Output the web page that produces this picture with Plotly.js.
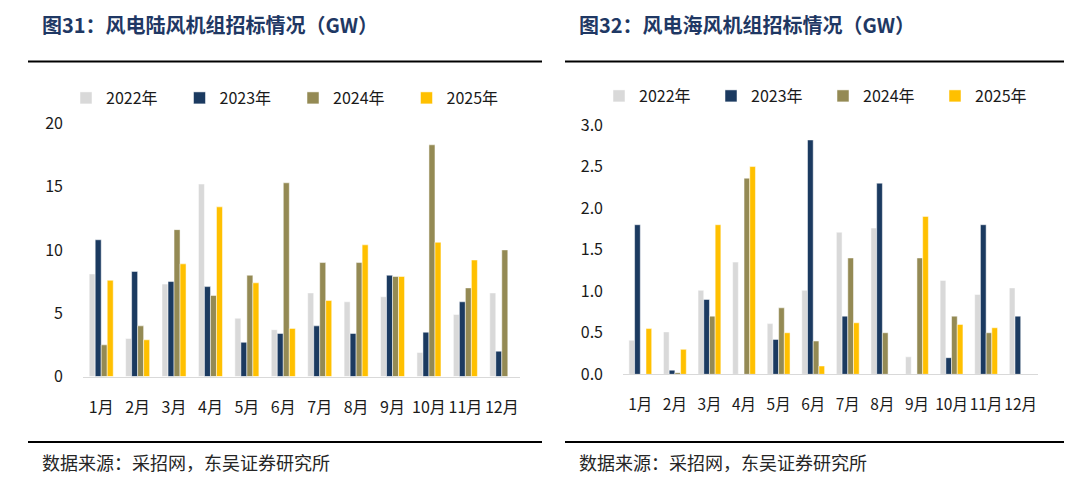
<!DOCTYPE html>
<html>
<head>
<meta charset="utf-8">
<script src="https://cdn.plot.ly/plotly-3.0.1.min.js"></script>
<style>
html,body{margin:0;padding:0;background:#fff;}
#chart{width:1080px;height:479px;}
</style>
</head>
<body>
<div id="chart"></div>
<script>
// ---- data (GW) ----
const months = ['1月','2月','3月','4月','5月','6月','7月','8月','9月','10月','11月','12月'];
const years = ['2022年','2023年','2024年','2025年'];

const onshore2022 = [8.1, 3.0, 7.3, 15.2, 4.6, 3.7, 6.6, 5.9, 6.3, 1.9, 4.9, 6.6];
const onshore2023 = [10.8, 8.3, 7.5, 7.1, 2.7, 3.4, 4.0, 3.4, 8.0, 3.5, 5.9, 2.0];
const onshore2024 = [2.5, 4.0, 11.6, 6.4, 8.0, 15.3, 9.0, 9.0, 7.9, 18.3, 7.0, 10.0];
const onshore2025 = [7.6, 2.9, 8.9, 13.4, 7.4, 3.8, 6.0, 10.4, 7.9, 10.6, 9.2, null];

const offshore2022 = [0.41, 0.51, 1.01, 1.35, 0.61, 1.01, 1.71, 1.76, 0.21, 1.13, 0.96, 1.04];
const offshore2023 = [1.8, 0.05, 0.9, 0, 0.42, 2.82, 0.7, 2.3, 0, 0.2, 1.8, 0.7];
const offshore2024 = [0, 0.02, 0.7, 2.36, 0.8, 0.4, 1.4, 0.5, 1.4, 0.7, 0.5, null];
const offshore2025 = [0.55, 0.3, 1.8, 2.5, 0.5, 0.1, 0.62, 0, 1.9, 0.6, 0.56, null];

const colors = ['#D9D9D9', '#1B3A60', '#948A54', '#FFC000'];

const onshore = [onshore2022, onshore2023, onshore2024, onshore2025];
const offshore = [offshore2022, offshore2023, offshore2024, offshore2025];

const FONT = '"Noto Sans CJK SC", "Open Sans", sans-serif';
const W = 1080, H = 479;
const px = v => v / W;
const py = v => 1 - v / H;

const traces = [];
onshore.forEach((vals, i) => {
  traces.push({
    type: 'bar', x: months, y: vals, name: years[i],
    xaxis: 'x', yaxis: 'y', legend: 'legend',
    marker: {color: colors[i], line: {color: '#ffffff', width: 0.5}},
    hovertemplate: '%{x} ' + years[i] + ': %{y}<extra></extra>'
  });
});
offshore.forEach((vals, i) => {
  traces.push({
    type: 'bar', x: months, y: vals, name: years[i],
    xaxis: 'x2', yaxis: 'y2', legend: 'legend2',
    marker: {color: colors[i], line: {color: '#ffffff', width: 0.5}},
    hovertemplate: '%{x} ' + years[i] + ': %{y}<extra></extra>'
  });
});

const tickFont = {family: FONT, size: 16, color: '#1a1a1a'};

const xCommon = {
  type: 'category', showgrid: false, zeroline: false,
  showline: true, linecolor: '#D9D9D9', linewidth: 1,
  ticks: '', ticklabelstandoff: 16, tickangle: 0, tickfont: tickFont, fixedrange: true
};
const yCommon = {
  showgrid: false, zeroline: false, showline: false,
  ticks: '', ticklabelstandoff: 19, tickfont: tickFont, fixedrange: true
};

const legendCommon = {
  orientation: 'h', xanchor: 'left', yanchor: 'middle',
  font: {family: FONT, size: 16, color: '#1a1a1a'},
  bgcolor: 'rgba(0,0,0,0)', entrywidthmode: 'pixels', traceorder: 'normal'
};

const layout = {
  width: W, height: H,
  margin: {l: 0, r: 0, t: 0, b: 0, pad: 0},
  paper_bgcolor: '#ffffff', plot_bgcolor: '#ffffff',
  barmode: 'group', bargap: 0.34, bargroupgap: 0,
  font: {family: FONT},
  xaxis: Object.assign({}, xCommon, {domain: [px(83), px(520)], anchor: 'y'}),
  yaxis: Object.assign({}, yCommon, {domain: [py(376.5), py(123.3)], range: [0, 20],
    tickvals: [0, 5, 10, 15, 20], anchor: 'x'}),
  xaxis2: Object.assign({}, xCommon, {domain: [px(623), px(1038)], anchor: 'y2',
    tickfont: {family: FONT, size: 15.5, color: '#1a1a1a'}}),
  yaxis2: Object.assign({}, yCommon, {domain: [py(374.3), py(125)], range: [0, 3],
    tickvals: [0, 0.5, 1, 1.5, 2, 2.5, 3], tickformat: '.1f', anchor: 'x2'}),
  legend: Object.assign({}, legendCommon, {x: px(66), y: py(98), entrywidth: 68.5}),
  legend2: Object.assign({}, legendCommon, {x: px(599), y: py(96), entrywidth: 67}),
  showlegend: true,
  annotations: [
    {text: '<b>图31：风电陆风机组招标情况（GW）</b>', x: px(40), y: py(24), xref: 'paper', yref: 'paper',
      xanchor: 'left', yanchor: 'middle', showarrow: false,
      font: {family: FONT, size: 20, color: '#1F3864'}},
    {text: '<b>图32：风电海风机组招标情况（GW）</b>', x: px(577), y: py(24), xref: 'paper', yref: 'paper',
      xanchor: 'left', yanchor: 'middle', showarrow: false,
      font: {family: FONT, size: 20, color: '#1F3864'}},
    {text: '数据来源：采招网，东吴证券研究所', x: px(40), y: py(462), xref: 'paper', yref: 'paper',
      xanchor: 'left', yanchor: 'middle', showarrow: false,
      font: {family: FONT, size: 18, color: '#262626'}},
    {text: '数据来源：采招网，东吴证券研究所', x: px(577), y: py(462), xref: 'paper', yref: 'paper',
      xanchor: 'left', yanchor: 'middle', showarrow: false,
      font: {family: FONT, size: 18, color: '#262626'}}
  ],
  shapes: [
    {type: 'line', xref: 'paper', yref: 'paper', x0: px(28), x1: px(542), y0: py(61.5), y1: py(61.5),
      line: {color: '#000000', width: 2}},
    {type: 'line', xref: 'paper', yref: 'paper', x0: px(565), x1: px(1064), y0: py(61.5), y1: py(61.5),
      line: {color: '#000000', width: 2}},
    {type: 'line', xref: 'paper', yref: 'paper', x0: px(28), x1: px(542), y0: py(442), y1: py(442),
      line: {color: '#000000', width: 2}},
    {type: 'line', xref: 'paper', yref: 'paper', x0: px(565), x1: px(1064), y0: py(442), y1: py(442),
      line: {color: '#000000', width: 2}}
  ]
};

Plotly.newPlot('chart', traces, layout, {displayModeBar: false, staticPlot: true});
</script>
</body>
</html>
